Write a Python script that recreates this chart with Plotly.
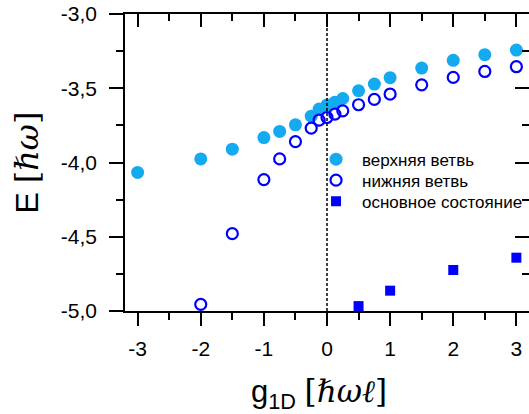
import plotly.graph_objects as go

# ---- data ----
upper_x = [-3, -2, -1.5, -1, -0.75, -0.5, -0.25, -0.125, 0, 0.125, 0.25, 0.5, 0.75, 1, 1.5, 2, 2.5, 3]
upper_y = [-4.067, -3.976, -3.910, -3.832, -3.791, -3.746, -3.688, -3.640, -3.612, -3.594, -3.569,
           -3.517, -3.472, -3.429, -3.364, -3.312, -3.274, -3.243]

lower_x = [-2, -1.5, -1, -0.75, -0.5, -0.25, -0.125, 0, 0.125, 0.25, 0.5, 0.75, 1, 1.5, 2, 2.5, 3]
lower_y = [-4.955, -4.479, -4.115, -3.976, -3.859, -3.769, -3.715, -3.697, -3.674, -3.652,
           -3.611, -3.575, -3.539, -3.477, -3.427, -3.387, -3.355]

ground_x = [0.5, 1, 2, 3]
ground_y = [-4.967, -4.863, -4.724, -4.641]

names = ["верхняя ветвь", "нижняя ветвь", "основное состояние"]

x_tickvals = [-3, -2, -1, 0, 1, 2, 3]
x_ticktext = ["-3", "-2", "-1", "0", "1", "2", "3"]
x_minor = [-2.5, -1.5, -0.5, 0.5, 1.5, 2.5]
y_tickvals = [-5.0, -4.5, -4.0, -3.5, -3.0]
y_ticktext = ["-5,0", "-4,5", "-4,0", "-3,5", "-3,0"]
y_minor = [-4.75, -4.25, -3.75, -3.25]

FONT = "Liberation Sans, Arial, sans-serif"
LIGHT = "#14aaf0"
BLUE = "#0000ff"

fig = go.Figure()
fig.add_trace(go.Scatter(x=upper_x, y=upper_y, mode="markers", name=names[0], legend="legend",
                         marker=dict(symbol="circle", size=13, color=LIGHT, line=dict(width=0))))
fig.add_trace(go.Scatter(x=lower_x, y=lower_y, mode="markers", name=names[1], legend="legend2",
                         marker=dict(symbol="circle-open", size=11, color=BLUE, line=dict(width=2.2, color=BLUE))))
fig.add_trace(go.Scatter(x=ground_x, y=ground_y, mode="markers", name=names[2], legend="legend3",
                         marker=dict(symbol="square", size=10, color=BLUE, line=dict(width=0))))
# empty trace to realise the mirrored (inside-tick) axes
fig.add_trace(go.Scatter(x=[], y=[], xaxis="x2", yaxis="y2", showlegend=False, hoverinfo="skip"))

axis_common = dict(showgrid=False, zeroline=False, linecolor="black", linewidth=1.5,
                   tickcolor="black", tickwidth=1.5,
                   tickfont=dict(family=FONT, size=21, color="black"))

leg_common = dict(xanchor="left", yanchor="top", bgcolor="rgba(0,0,0,0)", itemwidth=42,
                  font=dict(family=FONT, size=17, color="black"), borderwidth=0)

fig.update_layout(
    width=529, height=414,
    margin=dict(l=125, r=0, t=14, b=103),
    plot_bgcolor="white", paper_bgcolor="white",
    font=dict(family=FONT, color="black"),
    xaxis=dict(range=[-3.2, 3.2], showline=True, ticks="outside", ticklen=13,
               tickmode="array", tickvals=x_tickvals, ticktext=x_ticktext,
               minor=dict(tickmode="array", tickvals=x_minor, ticks="outside", ticklen=7,
                          tickcolor="black", tickwidth=1.5),
               ticklabelstandoff=5, **axis_common),
    yaxis=dict(range=[-5.0, -3.0], showline=True, ticks="outside", ticklen=14,
               tickmode="array", tickvals=y_tickvals, ticktext=y_ticktext,
               minor=dict(tickmode="array", tickvals=y_minor, ticks="outside", ticklen=7,
                          tickcolor="black", tickwidth=1.5),
               ticklabelstandoff=8, **axis_common),
    xaxis2=dict(range=[-3.2, 3.2], overlaying="x", side="top", anchor="y", showline=True,
                ticks="inside", ticklen=13, showticklabels=False,
                tickmode="array", tickvals=x_tickvals,
                minor=dict(tickmode="array", tickvals=x_minor, ticks="inside", ticklen=7,
                           tickcolor="black", tickwidth=1.5),
                **axis_common),
    yaxis2=dict(range=[-5.0, -3.0], overlaying="y", side="right", anchor="x", showline=False,
                ticks="inside", ticklen=14, showticklabels=False,
                tickmode="array", tickvals=y_tickvals,
                minor=dict(tickmode="array", tickvals=y_minor, ticks="inside", ticklen=7,
                           tickcolor="black", tickwidth=1.5),
                **axis_common),
    legend=dict(x=0.458, y=0.5703, **leg_common),
    legend2=dict(x=0.458, y=0.4995, **leg_common),
    legend3=dict(x=0.458, y=0.4288, **leg_common),
    showlegend=True,
)

fig.add_shape(type="line", xref="x", yref="paper", x0=0, x1=0, y0=0, y1=1,
              line=dict(color="black", width=1.5, dash="3px,2px"))

serif = "DejaVu Serif, Liberation Serif, serif"
fig.add_annotation(xref="paper", yref="paper", x=-0.245, y=0.5, showarrow=False,
                   textangle=-90, xanchor="center", yanchor="middle",
                   text=f'E <span style="font-family:{serif}">[<i>ℏω</i>]</span>',
                   font=dict(family=FONT, size=32, color="black"))
fig.add_annotation(xref="paper", yref="paper", x=0.48, y=-0.277, showarrow=False,
                   xanchor="center", yanchor="middle",
                   text=f'g<sub>1D</sub> <span style="font-family:{serif}">[<i>ℏωℓ</i>]</span>',
                   font=dict(family=FONT, size=31, color="black"))

fig.write_html("out.html")
